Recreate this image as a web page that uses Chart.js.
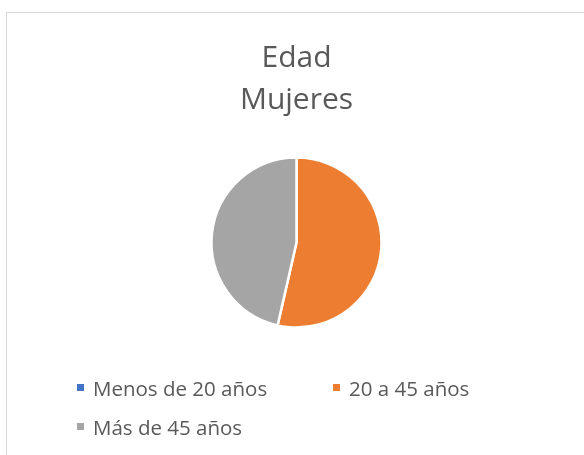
<!DOCTYPE html>
<html>
<head>
    <meta charset="utf-8">
    <title>Edad Mujeres</title>
    <script src="https://cdn.jsdelivr.net/npm/chart.js"></script>
    <style>
        body {
            margin: 0;
            padding: 0;
            background: white;
            font-family: "Open Sans", sans-serif;
            overflow: hidden;
        }
        .frame {
            position: absolute;
            left: 6px;
            top: 12px;
            width: 600px;
            height: 460px;
            border: 1px solid #d9d9d9;
        }
        .chart-box {
            position: absolute;
            left: 0;
            top: 0;
            width: 579px;
            height: 442px;
        }
        #legend {
            position: absolute;
            left: 70px;
            top: 355px;
            width: 520px;
            display: flex;
            flex-wrap: wrap;
            margin: 0;
            padding: 0;
            list-style: none;
        }
        #legend li {
            width: 256px;
            height: 39px;
            display: flex;
            align-items: center;
            font-size: 20.5px;
            color: #595959;
            white-space: nowrap;
        }
        #legend span {
            display: inline-block;
            width: 7px;
            height: 7px;
            margin-right: 9px;
        }
    </style>
</head>
<body>
    <div class="frame">
        <div class="chart-box"><canvas id="pieChart"></canvas></div>
        <ul id="legend"></ul>
    </div>

    <script>
        const titleLines = ["Edad", "Mujeres"];
        const categories = ["Menos de 20 años", "20 a 45 años", "Más de 45 años"];
        const values = [0, 15, 13];
        const colors = ["#4472C4", "#ED7D31", "#A5A5A5"];

        new Chart(document.getElementById("pieChart"), {
            type: "pie",
            data: {
                labels: categories,
                datasets: [{
                    data: values,
                    backgroundColor: colors,
                    borderColor: "#ffffff",
                    borderWidth: 2.5
                }]
            },
            options: {
                responsive: true,
                maintainAspectRatio: false,
                animation: false,
                radius: 85,
                layout: { padding: { bottom: 101 } },
                plugins: {
                    legend: { display: false },
                    tooltip: { enabled: false },
                    title: {
                        display: true,
                        text: titleLines,
                        color: "#595959",
                        font: { family: "Open Sans", size: 30, weight: "normal", lineHeight: 1.4 },
                        padding: { top: 24, bottom: 10 }
                    }
                }
            }
        });

        // legend as html list, built from the same arrays
        const legend = document.getElementById("legend");
        categories.forEach(function (name, i) {
            const li = document.createElement("li");
            const box = document.createElement("span");
            box.style.background = colors[i];
            li.appendChild(box);
            li.appendChild(document.createTextNode(name));
            legend.appendChild(li);
        });
    </script>
</body>
</html>
